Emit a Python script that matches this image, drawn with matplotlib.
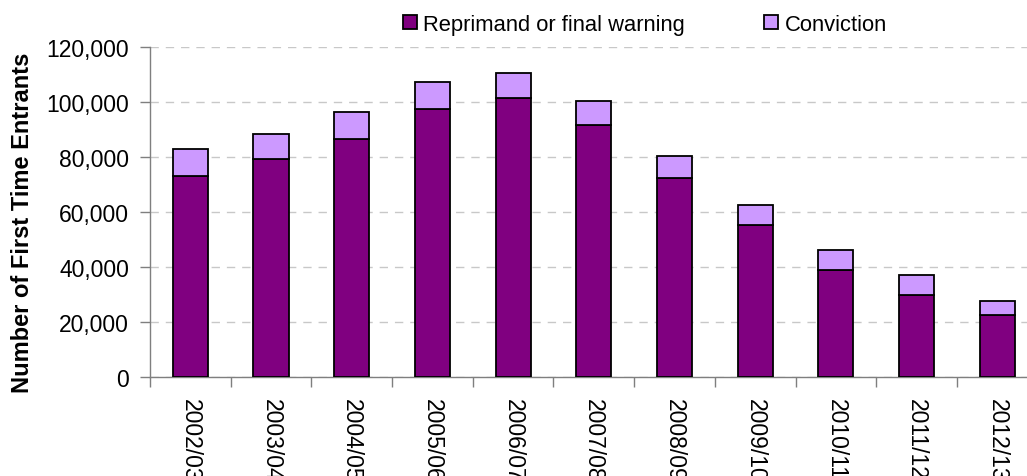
import numpy as np
import matplotlib
matplotlib.use("Agg")
import matplotlib.pyplot as plt
from matplotlib.ticker import FuncFormatter, FixedLocator

years = ["2002/03", "2003/04", "2004/05", "2005/06", "2006/07", "2007/08",
         "2008/09", "2009/10", "2010/11", "2011/12", "2012/13"]
reprimand = [73100, 79100, 86300, 97300, 101300, 91500, 72300, 55200, 38800, 29700, 22400]
conviction = [9800, 9300, 10000, 10000, 9300, 8700, 8000, 7300, 7400, 7200, 5300]

plt.rcParams['font.family'] = ['Liberation Sans', 'DejaVu Sans']

fig = plt.figure(figsize=(10.27, 4.77), dpi=100)
ax = fig.add_axes([0.146, 0.2075, 0.8644, 0.6925])

x = np.arange(len(years))
w = 0.434
ax.bar(x, reprimand, w, color='#800080', edgecolor='black', linewidth=1.3,
       label='Reprimand or final warning', zorder=3)
ax.bar(x, conviction, w, bottom=reprimand, color='#cc99ff', edgecolor='black',
       linewidth=1.3, label='Conviction', zorder=3)

ax.set_xlim(-0.5, len(years) - 0.5)
ax.set_ylim(0, 120000)
ax.set_yticks(np.arange(0, 120001, 20000))
ax.yaxis.set_major_formatter(FuncFormatter(lambda v, p: f"{int(v):,}"))
ax.grid(axis='y', linestyle=(0, (6, 5)), color='#c8c8c8', linewidth=1, zorder=0)

# labels sit at the bar centres, tick marks sit between categories
ax.set_xticks(x)
ax.set_xticklabels(years, rotation=-90, va='top', ha='center')
ax.xaxis.set_minor_locator(FixedLocator(np.arange(-0.5, len(years), 1)))
ax.tick_params(axis='x', which='major', length=0, pad=15, labelsize=16.5)
ax.tick_params(axis='x', which='minor', length=7, color='#7f7f7f', width=1)
ax.tick_params(axis='y', length=7, color='#7f7f7f', width=1, pad=8, labelsize=16.5)

for s in ['top', 'right']:
    ax.spines[s].set_visible(False)
for s in ['left', 'bottom']:
    ax.spines[s].set_color('#7f7f7f')
    ax.spines[s].set_linewidth(1)

ax.set_ylabel("Number of First Time Entrants", fontsize=17, fontweight='bold')
ax.yaxis.set_label_coords(-0.131, 0.47)

fig.legend(loc='center', bbox_to_anchor=(0.628, 0.947), ncol=2, frameon=False,
           fontsize=15.8, handlelength=0.65, handleheight=0.65, handletextpad=0.3,
           columnspacing=3.6)

fig.savefig("out.png", dpi=100)
